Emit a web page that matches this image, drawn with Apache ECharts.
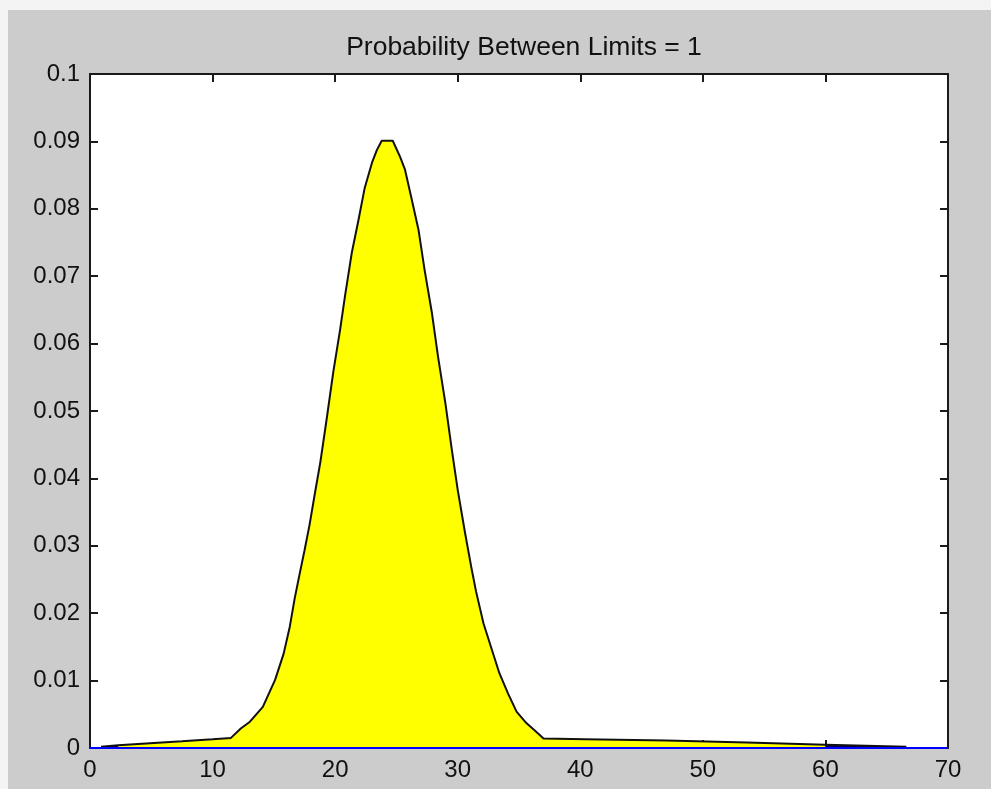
<!DOCTYPE html>
<html>
<head>
<meta charset="utf-8">
<script src="https://cdn.jsdelivr.net/npm/echarts@6/dist/echarts.min.js"></script>
<style>
  html, body { margin: 0; padding: 0; background: #f4f4f4; width: 991px; height: 789px; overflow: hidden; }
  #chart { position: absolute; left: 8px; top: 10px; width: 983px; height: 779px; }
</style>
</head>
<body>
<div id="chart"></div>
<script>
// Density curve sample points: x positions and values
const curveX = [0.9, 2.3, 4.9, 7.5, 10.0, 11.5, 12.3, 13.05, 14.1, 15.1, 15.8, 16.3, 16.7, 17.1, 17.5, 17.9,
  18.35, 18.8, 19.3, 19.85, 20.4, 20.8, 21.35, 21.9, 22.4, 23.0, 23.4, 23.8, 24.7, 25.3, 25.7, 26.2,
  26.8, 27.3, 27.9, 28.4, 29.0, 29.5, 30.0, 30.6, 31.1, 31.5, 32.1, 32.8, 33.4, 34.1, 34.8, 35.6,
  36.4, 37.0, 40.4, 47.0, 53.6, 60.0, 66.6];
const curveY = [0.0002, 0.0004, 0.0007, 0.0010, 0.0013, 0.0015, 0.0029, 0.0039, 0.0061, 0.0101, 0.0140, 0.0180, 0.0222, 0.0258, 0.0293, 0.0330,
  0.0378, 0.0425, 0.0487, 0.0558, 0.0620, 0.0670, 0.0734, 0.0783, 0.0830, 0.0868, 0.0887, 0.0901, 0.0901, 0.0877, 0.0858, 0.0818,
  0.0769, 0.0709, 0.0645, 0.0580, 0.0511, 0.0445, 0.0383, 0.0319, 0.0269, 0.0232, 0.0185, 0.0145, 0.0111, 0.0081, 0.0054, 0.0037,
  0.0024, 0.0014, 0.0013, 0.0011, 0.0008, 0.0005, 0.0002];

// Lower and upper integration limits
const limits = [2.3, 60.0];

// Axis ranges and tick labels
const xTicks = [0, 10, 20, 30, 40, 50, 60, 70];
const xTickLabels = ['0', '10', '20', '30', '40', '50', '60', '70'];
const yTicks = [0, 0.01, 0.02, 0.03, 0.04, 0.05, 0.06, 0.07, 0.08, 0.09, 0.1];
const yTickLabels = ['0', '0.01', '0.02', '0.03', '0.04', '0.05', '0.06', '0.07', '0.08', '0.09', '0.1'];

const titleText = 'Probability Between Limits = 1';

const points = curveX.map((x, i) => [x, curveY[i]]);
const inside = points.filter(p => p[0] >= limits[0] && p[0] <= limits[1]);
const leftTail = points.filter(p => p[0] <= limits[0]);
const rightTail = points.filter(p => p[0] >= limits[1]);
const baseline = [[xTicks[0], 0], [xTicks[xTicks.length - 1], 0]];

const FONT = 'Liberation Sans, Arial, sans-serif';
const chart = echarts.init(document.getElementById('chart'), null, { renderer: 'canvas' });

function xLabel(v) {
  const i = xTicks.findIndex(t => Math.abs(t - v) < 1e-9);
  return i >= 0 ? xTickLabels[i] : '';
}
function yLabel(v) {
  const i = yTicks.findIndex(t => Math.abs(t - v) < 1e-9);
  return i >= 0 ? yTickLabels[i] : '';
}

const axisLine = { show: true, onZero: false, lineStyle: { color: '#1a1a1a', width: 2 } };
const axisTick = { show: true, inside: true, length: 8, lineStyle: { color: '#1a1a1a', width: 2 } };

chart.setOption({
  backgroundColor: '#cccccc',
  animation: false,
  title: {
    text: titleText,
    left: 511,
    top: 19,
    textAlign: 'center',
    textStyle: { fontFamily: FONT, fontSize: 26.5, fontWeight: 'normal', color: '#111' }
  },
  grid: {
    left: 82, right: 43, top: 64, bottom: 41,
    show: true, backgroundColor: '#ffffff', borderWidth: 0
  },
  xAxis: [
    {
      type: 'value', min: 0, max: 70, interval: 10, position: 'bottom',
      axisLine, axisTick, splitLine: { show: false },
      axisLabel: { margin: 10, fontFamily: FONT, fontSize: 24, color: '#111', formatter: xLabel }
    },
    {
      type: 'value', min: 0, max: 70, interval: 10, position: 'top',
      axisLine, axisTick, splitLine: { show: false }, axisLabel: { show: false }
    }
  ],
  yAxis: [
    {
      type: 'value', min: 0, max: 0.1, interval: 0.01, position: 'left',
      axisLine, axisTick, splitLine: { show: false },
      axisLabel: { margin: 10, fontFamily: FONT, fontSize: 24, color: '#111', formatter: yLabel }
    },
    {
      type: 'value', min: 0, max: 0.1, interval: 0.01, position: 'right',
      axisLine, axisTick, splitLine: { show: false }, axisLabel: { show: false }
    }
  ],
  series: [
    {
      name: 'between', type: 'line', data: inside, showSymbol: false,
      lineStyle: { width: 0 }, areaStyle: { color: '#ffff00', opacity: 1 }, z: 2
    },
    {
      name: 'lowerTail', type: 'line', data: leftTail, showSymbol: false,
      lineStyle: { width: 0 }, areaStyle: { color: '#00005a', opacity: 1 }, z: 2
    },
    {
      name: 'upperTail', type: 'line', data: rightTail, showSymbol: false,
      lineStyle: { width: 0 }, areaStyle: { color: '#00005a', opacity: 1 }, z: 2
    },
    {
      name: 'density', type: 'line', data: points, showSymbol: false,
      lineStyle: { color: '#111111', width: 2 }, z: 3
    },
    {
      name: 'baseline', type: 'line', data: baseline, showSymbol: false,
      lineStyle: { color: '#0000ff', width: 2 }, z: 4
    }
  ]
});
</script>
</body>
</html>
